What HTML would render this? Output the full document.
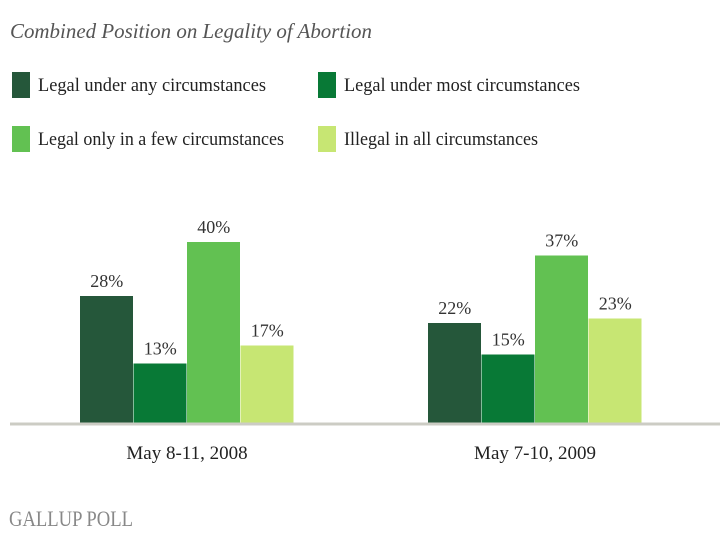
<!DOCTYPE html>
<html><head><meta charset="utf-8"><style>
body{margin:0;background:#fff;}
svg{display:block;}
text{font-family:"Liberation Serif",serif;}
</style></head><body>
<svg id="chart" width="720" height="540">
<text x="10" y="38" font-size="21" font-style="italic" fill="#555" textLength="362" lengthAdjust="spacingAndGlyphs">Combined Position on Legality of Abortion</text>
<g id="legend"></g>
<g id="bars"></g>
<line x1="10" x2="720" y1="424" y2="424" stroke="#ccccc4" stroke-width="3"/>
<g id="xlabels"></g>
<text x="9" y="526" font-size="22" fill="#888" font-family="Liberation Sans Narrow, Liberation Sans, sans-serif" textLength="124" lengthAdjust="spacingAndGlyphs">GALLUP POLL</text>
</svg>
<script>
const categories = ["May 8-11, 2008", "May 7-10, 2009"];
const seriesNames = ["Legal under any circumstances","Legal under most circumstances","Legal only in a few circumstances","Illegal in all circumstances"];
const anyVals = [28, 22];
const mostVals = [13, 15];
const fewVals = [40, 37];
const illegalVals = [17, 23];
const series = [anyVals, mostVals, fewVals, illegalVals];
const colors = ["#25573a","#087936","#62c152","#c7e673"];
const NS = "http://www.w3.org/2000/svg";
const baseY = 422, pxPer = 4.5;
const groupX = [80, 428], barW = 53.5;
const legWidths = [228, 236, 246, 194];
function yScale(v){ return baseY - v*pxPer; }
function mk(tag, attrs, parent){ const e=document.createElementNS(NS,tag); for(const k in attrs) e.setAttribute(k,attrs[k]); parent.appendChild(e); return e; }
const legend = document.getElementById('legend');
const legPos = [[12,85],[318,85],[12,139],[318,139]];
seriesNames.forEach((n,i)=>{
  const r = mk('rect',{x:legPos[i][0],y:legPos[i][1]-13,width:18,height:26,fill:colors[i]},legend);
  
  
  const t = mk('text',{x:legPos[i][0]+26,y:legPos[i][1]+6,'font-size':19,fill:'#222',textLength:legWidths[i],lengthAdjust:'spacingAndGlyphs'},legend);
  t.textContent = n;
  
  
});
const bars = document.getElementById('bars');
categories.forEach((c,g)=>{
  series.forEach((s,i)=>{
    const x = groupX[g] + i*barW;
    const y = yScale(s[g]);
    const r = mk('rect',{x:x,y:y,width:barW-0.5,height:baseY-y+1,fill:colors[i]},bars);
    
    
    const t = mk('text',{x:x+barW/2,y:y-9,'font-size':18,fill:'#333','text-anchor':'middle'},bars);
    t.textContent = s[g]+'%';
    
    
  });
  const t = mk('text',{x:groupX[g]+2*barW,y:459,'font-size':19,fill:'#222','text-anchor':'middle'},document.getElementById('xlabels'));
  t.textContent = c;
  
  
});
</script>
</body></html>
